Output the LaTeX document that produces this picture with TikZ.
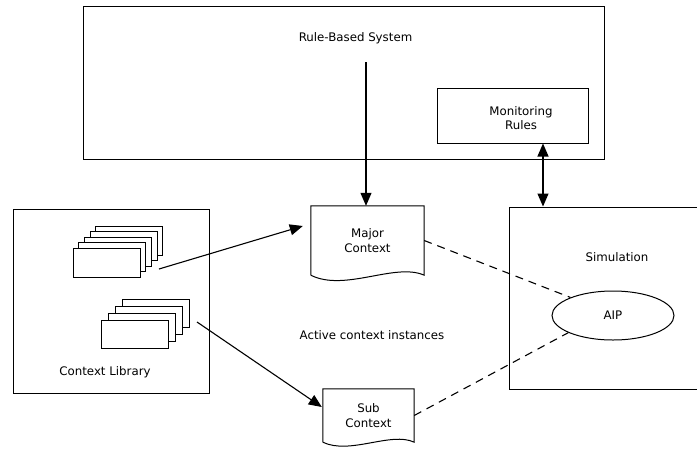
\documentclass[tikz,border=0pt]{standalone}
\usepackage{fontspec}
\setmainfont{DejaVu Sans}
\usetikzlibrary{shapes.geometric, arrows.meta}

\tikzset{
  box/.style={draw, line width=1pt, inner sep=0pt},
  txt/.style={font=\fontsize{11.8}{14.5}\selectfont, align=center},
  link/.style={line width=1.1pt, -{Triangle[length=13pt, width=11pt]}},
  dlink/.style={line width=1.1pt, {Triangle[length=13pt, width=11pt]}-{Triangle[length=13pt, width=11pt]}},
  dashlink/.style={line width=1.1pt, dash pattern=on 8pt off 6pt},
  card/.style={draw, fill=white, line width=0.9pt}
}

\begin{document}
\begin{tikzpicture}[x=1pt, y=-1pt]

  \useasboundingbox (0, 0) rectangle (697, 448);

  % rule-based system
  \node[box, minimum width=521pt, minimum height=153pt] (rbs) at (343.5, 82.5) {};
  \node[txt] (rbstext) at (355.5, 38) {Rule-Based System};
  \coordinate (rbsout) at (366, 62);

  \node[box, minimum width=151pt, minimum height=55pt] (mon) at (512.5, 115.5) {};
  \node[txt] (montext) at (521, 118) {Monitoring\\Rules};

  % simulation
  \node[box, minimum width=191pt, minimum height=182pt] (sim) at (604.5, 298) {};
  \node[txt] (simtext) at (617, 257) {Simulation};
  \node[draw, ellipse, line width=1pt, minimum width=122pt, minimum height=49pt,
        inner sep=0pt, txt] (aip) at (613, 315.5) {AIP};

  % context library
  \node[box, minimum width=196pt, minimum height=184pt] (lib) at (111, 301) {};
  \node[txt] (libtext) at (105, 372) {Context Library};

  \foreach \i in {4, 3, ..., 0} {
    \pgfmathsetmacro{\cx}{73 + 5.7 * \i}
    \pgfmathsetmacro{\cy}{248 - 5.5 * \i}
    \draw[card] (\cx, \cy) rectangle +(67, 29);
  }
  \foreach \i in {3, 2, ..., 0} {
    \pgfmathsetmacro{\cx}{101 + 7 * \i}
    \pgfmathsetmacro{\cy}{320 - 6.7 * \i}
    \draw[card] (\cx, \cy) rectangle +(67, 28);
  }
  \coordinate (libtop) at (159, 269);
  \coordinate (libsub) at (197, 322);

  % active context instances
  \node[txt, minimum width=113pt, minimum height=69pt] (major) at (367.5, 240.5) {Major\\Context};
  \draw[line width=1pt] (major.south west) -- (major.north west) -- (major.north east)
    -- (major.south east) .. controls +(-29, -13) and +(34, 17) .. (major.south west);

  \node[txt, minimum width=91pt, minimum height=53pt] (sub) at (368.5, 415.5) {Sub\\Context};
  \draw[line width=1pt] (sub.south west) -- (sub.north west) -- (sub.north east)
    -- (sub.south east) .. controls +(-23, -11) and +(27, 13) .. (sub.south west);

  \node[txt] (active) at (372, 335) {Active context instances};

  % connectors
  \draw[link] (rbsout) -- (rbsout |- major.north);
  \draw[dlink] ([xshift=30.5pt]mon.south) -- ([xshift=30.5pt]mon.south |- sim.north);
  \draw[link] (libtop) -- ([shift={(-8, -14.5)}]major.west);
  \draw[link] (libsub) -- ([shift={(-1, -8.5)}]sub.west);
  \draw[dashlink] (major.east) -- (aip.157);
  \draw[dashlink] (sub.east) -- (aip.201);

\end{tikzpicture}
\end{document}
